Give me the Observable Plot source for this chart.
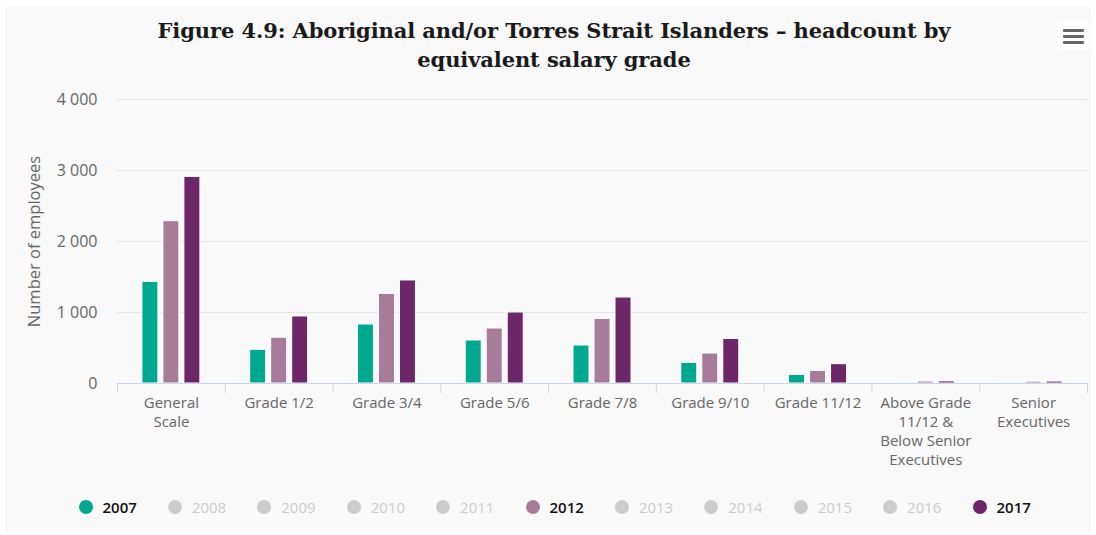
<!DOCTYPE html>
<html>
<head>
<meta charset="utf-8">
<script src="https://cdn.jsdelivr.net/npm/d3@7"></script>
<script src="https://cdn.jsdelivr.net/npm/@observablehq/plot@0.6"></script>
<style>
  html, body { margin: 0; padding: 0; background: #ffffff; width: 1096px; height: 535px; overflow: hidden; }
  #card { position: absolute; left: 5px; top: 6px; width: 1086px; height: 526px; background: #f9f9f9; }
  #title { position: absolute; left: 0; top: 16px; width: 1108px; text-align: center;
           font-family: "DejaVu Serif", serif; font-weight: bold; font-size: 21px; line-height: 29px; color: #1a1a1a; letter-spacing: -0.1px; }
  #menu { position: absolute; left: 1057px; top: 21px; width: 32px; height: 29px; background: #ffffff; border-radius: 3px; }
  #menu span { position: absolute; left: 6px; width: 21px; height: 3px; background: #666; border-radius: 1px; }
  #chart { position: absolute; left: 0; top: 85px; }
  #legend { position: absolute; left: 0; top: 497px; height: 20px; }
  .item { position: absolute; top: 0; height: 20px; display: flex; align-items: center;
          font-family: "Open Sans", sans-serif; font-size: 15px; }
  .dot { width: 14px; height: 14px; border-radius: 50%; margin-right: 10px; }
</style>
</head>
<body>
<div id="card"></div>
<div id="title">Figure 4.9: Aboriginal and/or Torres Strait Islanders – headcount by<br>equivalent salary grade</div>
<div id="menu"><span style="top:8px"></span><span style="top:14px"></span><span style="top:20px"></span></div>
<div id="chart"></div>
<div id="legend"></div>
<script>
// ---- data ----
const categories = ["General Scale", "Grade 1/2", "Grade 3/4", "Grade 5/6", "Grade 7/8", "Grade 9/10", "Grade 11/12", "Above Grade 11/12 & Below Senior Executives", "Senior Executives"];
const categoryLabels = ["General\nScale", "Grade 1/2", "Grade 3/4", "Grade 5/6", "Grade 7/8", "Grade 9/10", "Grade 11/12", "Above Grade\n11/12 &\nBelow Senior\nExecutives", "Senior\nExecutives"];
const values2007 = [1432, 475, 831, 606, 535, 290, 121, 5, 3];
const values2012 = [2286, 645, 1263, 775, 910, 422, 178, 28, 26];
const values2017 = [2910, 944, 1451, 1000, 1211, 628, 272, 30, 28];
const yTicks = [0, 1000, 2000, 3000, 4000];
const legendYears = ["2007", "2008", "2009", "2010", "2011", "2012", "2013", "2014", "2015", "2016", "2017"];
const shownYears = ["2007", "2012", "2017"];
const seriesColors = {"2007": "#00a88f", "2012": "#a67c9a", "2017": "#6d2668"};

// ---- layout ----
const W = 1096, H = 388, mL = 117, mR = 9, mT = 14, mB = 90;
const bw = (W - mL - mR) / categories.length;
const barW = 16, step = 21;
const inset = (bw - barW) / 2;

const rows = (vals) => categories.map((c, i) => ({cat: c, value: vals[i]}));
const labelOf = new Map(categories.map((c, i) => [c, categoryLabels[i]]));
const fmt = (d) => d3.format(",")(d).replace(/,/g, " ");

const series = [["2007", values2007, -step], ["2012", values2012, 0], ["2017", values2017, step]];

const chart = Plot.plot({
  width: W, height: H,
  marginLeft: mL, marginRight: mR, marginTop: mT, marginBottom: mB,
  style: {background: "transparent", fontFamily: "'Open Sans', sans-serif", fontSize: "15px", color: "#666"},
  x: {domain: categories, padding: 0, round: false, axis: null},
  y: {domain: [0, 4000], axis: null},
  marks: [
    Plot.gridY(yTicks.filter(d => d > 0), {stroke: "#e6e6e6", strokeOpacity: 1}),
    Plot.axisY(yTicks, {tickSize: 0, tickPadding: 20, tickFormat: fmt, fontSize: 16, fill: "#666", label: null}),
    Plot.axisY(yTicks, {tickSize: 0, text: null, fontSize: 16.5, fill: "#666",
      label: "Number of employees", labelAnchor: "center", labelArrow: "none", labelOffset: 89}),
    ...series.map(([yr, vals, dx]) => Plot.barY(rows(vals), {
      x: "cat", y: "value", fill: seriesColors[yr], stroke: "#ffffff", strokeWidth: 1,
      insetLeft: inset, insetRight: inset, dx: dx
    })),
    Plot.ruleY([0], {stroke: "#ccd6eb", strokeWidth: 1}),
    Plot.ruleX(categories, {x: d => d, y1: 0, y2: 0, dx: -bw / 2, insetBottom: -10, stroke: "#ccd6eb"}),
    Plot.ruleX(categories.slice(-1), {x: d => d, y1: 0, y2: 0, dx: bw / 2, insetBottom: -10, stroke: "#ccd6eb"}),
    Plot.axisX({tickSize: 0, tickPadding: 11, tickFormat: d => labelOf.get(d), fontSize: 15, fill: "#666", lineHeight: 1.27, label: null})
  ]
});
document.getElementById("chart").appendChild(chart);

// ---- legend ----
const legend = document.getElementById("legend");
legendYears.forEach((yr, i) => {
  const on = shownYears.includes(yr);
  const item = document.createElement("div");
  item.className = "item";
  item.style.left = (78.5 + i * 89.4) + "px";
  const dot = document.createElement("div");
  dot.className = "dot";
  dot.style.background = on ? seriesColors[yr] : "#cccccc";
  const txt = document.createElement("span");
  txt.textContent = yr;
  txt.style.color = on ? "#111" : "#cccccc";
  txt.style.fontWeight = on ? "600" : "400";
  item.appendChild(dot); item.appendChild(txt);
  legend.appendChild(item);
});
</script>
</body>
</html>
